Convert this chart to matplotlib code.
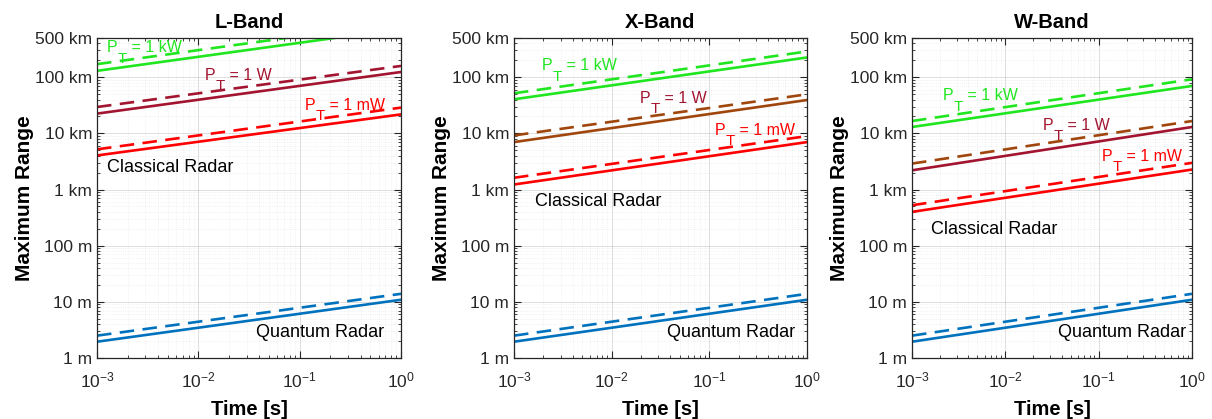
import matplotlib.pyplot as plt
from matplotlib.ticker import FixedLocator, FixedFormatter, LogLocator, NullFormatter

plt.rcParams['font.family'] = ['Liberation Sans', 'DejaVu Sans']
plt.rcParams['mathtext.fontset'] = 'custom'
plt.rcParams['mathtext.rm'] = 'Liberation Sans'

# time end points [s]; every curve is a straight line on log-log axes
t = [1e-3, 1.0]

bands = ['L-Band', 'X-Band', 'W-Band']

# maximum range [m] at t = 1e-3 s and t = 1 s  (solid, dashed)
kw_solid = [[1.30e5, 7.3e5], [4.05e4, 2.25e5], [1.30e4, 7.0e4]]
kw_dash = [[1.71e5, 9.6e5], [5.18e4, 2.88e5], [1.66e4, 9.2e4]]
w_solid = [[2.25e4, 1.24e5], [7.0e3, 3.93e4], [2.2e3, 1.30e4]]
w_dash = [[2.95e4, 1.59e5], [9.2e3, 4.97e4], [2.9e3, 1.66e4]]
mw_solid = [[4.05e3, 2.18e4], [1.23e3, 7.0e3], [4.0e2, 2.27e3]]
mw_dash = [[5.2e3, 2.88e4], [1.62e3, 8.95e3], [5.25e2, 2.99e3]]
q_solid = [1.95, 10.9]
q_dash = [2.5, 13.9]

ytick_vals = [1, 10, 100, 1e3, 1e4, 1e5, 5e5]
ytick_labels = ['1 m', '10 m', '100 m', '1 km', '10 km', '100 km', '500 km']

green = '#1FE61F'
maroon = '#A2142F'
brown = '#A0460C'
red = '#FF0000'
blue = '#0072BD'

# 1 W colours per band (solid, dashed)
w_colors = [(maroon, maroon), (brown, brown), (maroon, brown)]

# annotation positions, axes fraction (x, y)
lbl_pos = [
    {'kw': (0.033, 0.969), 'w': (0.355, 0.884), 'mw': (0.684, 0.790), 'cl': (0.033, 0.594), 'qr': (0.523, 0.081)},
    {'kw': (0.095, 0.913), 'w': (0.430, 0.811), 'mw': (0.686, 0.712), 'cl': (0.072, 0.490), 'qr': (0.522, 0.081)},
    {'kw': (0.111, 0.819), 'w': (0.468, 0.728), 'mw': (0.679, 0.629), 'cl': (0.067, 0.403), 'qr': (0.521, 0.080)},
]


def power_label(ax, pos, value, color, fs=11.5):
    # MATLAB style P_T: low, fairly large subscript
    p = ax.text(pos[0], pos[1], 'P', color=color, fontsize=fs, transform=ax.transAxes, va='center')
    sub = ax.annotate('T', xy=(1, 0.25), xycoords=p, color=color, fontsize=fs * 0.95, va='top', ha='left')
    ax.annotate(' = ' + value, xy=(1, 0), xycoords=(sub, p), color=color, fontsize=fs, va='bottom', ha='left')


fig = plt.figure(figsize=(12.12, 4.19), dpi=100)
lefts = [97 / 1212, 514 / 1212, 912 / 1212]
widths = [304 / 1212, 293 / 1212, 280 / 1212]
bottom = (419 - 358) / 419
height = 320 / 419

lw = 1.9
dash = (0, (5.5, 3.2))

for i, band in enumerate(bands):
    ax = fig.add_axes([lefts[i], bottom, widths[i], height])
    ax.loglog(t, kw_solid[i], color=green, lw=lw)
    ax.loglog(t, kw_dash[i], color=green, lw=lw, linestyle=dash)
    ax.loglog(t, w_solid[i], color=w_colors[i][0], lw=lw)
    ax.loglog(t, w_dash[i], color=w_colors[i][1], lw=lw, linestyle=dash)
    ax.loglog(t, mw_solid[i], color=red, lw=lw)
    ax.loglog(t, mw_dash[i], color=red, lw=lw, linestyle=dash)
    ax.loglog(t, q_solid, color=blue, lw=lw)
    ax.loglog(t, q_dash, color=blue, lw=lw, linestyle=dash)

    ax.set_xlim(1e-3, 1)
    ax.set_ylim(1, 5e5)
    ax.yaxis.set_major_locator(FixedLocator(ytick_vals))
    ax.yaxis.set_major_formatter(FixedFormatter(ytick_labels))
    ax.yaxis.set_minor_locator(LogLocator(base=10, subs=range(2, 10), numticks=20))
    ax.yaxis.set_minor_formatter(NullFormatter())
    ax.xaxis.set_minor_locator(LogLocator(base=10, subs=range(2, 10), numticks=20))
    ax.xaxis.set_minor_formatter(NullFormatter())

    ax.tick_params(which='both', direction='in', top=True, right=True, labelsize=12.5, colors='#262626')
    ax.tick_params(which='major', length=5, width=0.8)
    ax.tick_params(which='minor', length=2.5, width=0.6)
    ax.tick_params(axis='x', pad=9)
    for s in ax.spines.values():
        s.set_color('#262626')
        s.set_linewidth(0.9)

    ax.grid(True, which='major', color='#262626', alpha=0.15, lw=0.7)
    ax.grid(True, which='minor', color='#262626', alpha=0.10, lw=0.5, linestyle=':')
    ax.set_axisbelow(True)

    ax.set_title(band, fontsize=14.5, fontweight='bold', pad=7)
    ax.set_xlabel('Time [s]', fontsize=14.5, fontweight='bold', labelpad=7)
    ax.set_ylabel('Maximum Range', fontsize=15, fontweight='bold', labelpad=1)

    p = lbl_pos[i]
    power_label(ax, p['kw'], '1 kW', green)
    power_label(ax, p['w'], '1 W', maroon)
    power_label(ax, p['mw'], '1 mW', red)
    ax.text(*p['cl'], 'Classical Radar', color='black', fontsize=13, transform=ax.transAxes, va='center')
    ax.text(*p['qr'], 'Quantum Radar', color='black', fontsize=13, transform=ax.transAxes, va='center')

fig.savefig('out.png', dpi=100)
